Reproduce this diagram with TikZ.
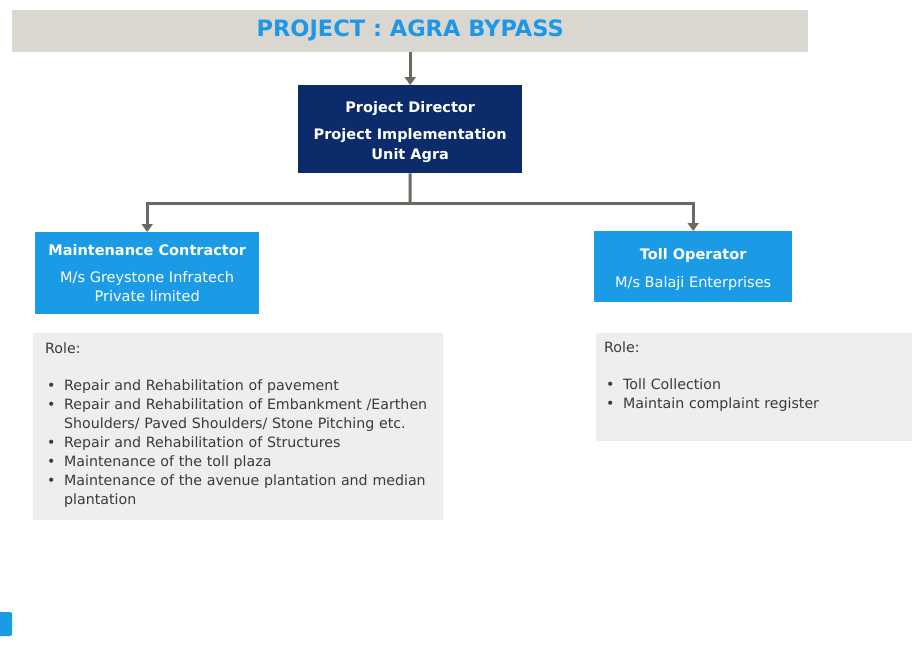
\documentclass[tikz,border=0pt]{standalone}
\usepackage{fontspec}
\setmainfont{DejaVu Sans}
\usetikzlibrary{arrows.meta}
\definecolor{titlegray}{HTML}{D9D7D0}
\definecolor{titleblue}{HTML}{1E98E6}
\definecolor{navy}{HTML}{0C2B6B}
\definecolor{boxblue}{HTML}{1B9BE6}
\definecolor{linegray}{HTML}{6C6A60}
\definecolor{rolegray}{HTML}{EEEEEE}
\definecolor{roletext}{HTML}{3A3A3A}
\newcommand{\bitem}[1]{\par\hangindent=19pt\hangafter=1\noindent\makebox[19pt][l]{\hspace{2pt}\textbullet}#1}
\newcommand{\cstack}[2]{\raisebox{#1}[0pt][0pt]{\begin{tabular}{@{}c@{}}#2\end{tabular}}}
\tikzset{
  arr/.style={draw=linegray, line width=3pt, -{Triangle[width=11pt,length=8pt]}},
  link/.style={draw=linegray, line width=3pt},
  darkbox/.style={fill=navy, text=white, anchor=north west, inner sep=0pt},
  bluebox/.style={fill=boxblue, text=white, anchor=north west, inner sep=0pt},
  rolebox/.style={fill=rolegray, text=roletext, anchor=north west, align=left, inner xsep=12pt, inner ysep=9pt,
    font=\fontsize{14.2}{19}\selectfont},
}
\begin{document}
\begin{tikzpicture}[x=1pt,y=-1pt]
\useasboundingbox (0,0) rectangle (912,664);
\fill[white] (0,0) rectangle (912,664);
% title bar
\node[fill=titlegray, minimum width=796pt, minimum height=42pt, anchor=north west, inner sep=0pt,
  text=titleblue, font=\bfseries\fontsize{22.5}{26}\selectfont] (title) at (12,10) {\raisebox{7pt}{PROJECT : AGRA BYPASS}};
% director
\node[darkbox, minimum width=224pt, minimum height=88pt, font=\bfseries\fontsize{14.5}{20}\selectfont] (dir) at (298,85)
  {\cstack{-6.5pt}{Project Director\\[7pt]Project Implementation\\Unit Agra}};
% maintenance contractor
\node[bluebox, minimum width=224pt, minimum height=82pt, font=\fontsize{14.5}{19}\selectfont] (mc) at (35,232)
  {\cstack{-5.5pt}{\textbf{Maintenance Contractor}\\[8pt]M/s Greystone Infratech\\Private limited}};
% toll operator
\node[bluebox, minimum width=198pt, minimum height=71pt, font=\fontsize{14.5}{19}\selectfont] (to) at (594,231)
  {\cstack{-6.5pt}{\textbf{Toll Operator}\\[9pt]M/s Balaji Enterprises}};
% role boxes
\node[rolebox, minimum width=410pt, minimum height=187pt, text width=386pt] (rl) at (33,333)
  {Role:\par\vspace{18pt}%
   \bitem{Repair and Rehabilitation of pavement}%
   \bitem{Repair and Rehabilitation of Embankment /Earthen\newline Shoulders/ Paved Shoulders/ Stone Pitching etc.}%
   \bitem{Repair and Rehabilitation of Structures}%
   \bitem{Maintenance of the toll plaza}%
   \bitem{Maintenance of the avenue plantation and median\newline plantation}\par\vspace{3pt}};
\node[rolebox, minimum width=316pt, minimum height=107pt, text width=300pt, inner xsep=6pt] (rr) at (596,333)
  {Role:\par\vspace{18pt}%
   \bitem{Toll Collection}%
   \bitem{Maintain complaint register}\par\vspace{20pt}};
% connectors
\coordinate (j) at (410,203);
\draw[arr] (title.south) -- (dir.north);
\draw[link] (dir.south) -- (j);
\draw[arr] (j) -| (mc.north);
\draw[arr] (j) -| (to.north);
% small fragment at bottom left
\fill[boxblue, rounded corners=2pt] (-4,612) rectangle (12,636);
\end{tikzpicture}
\end{document}
